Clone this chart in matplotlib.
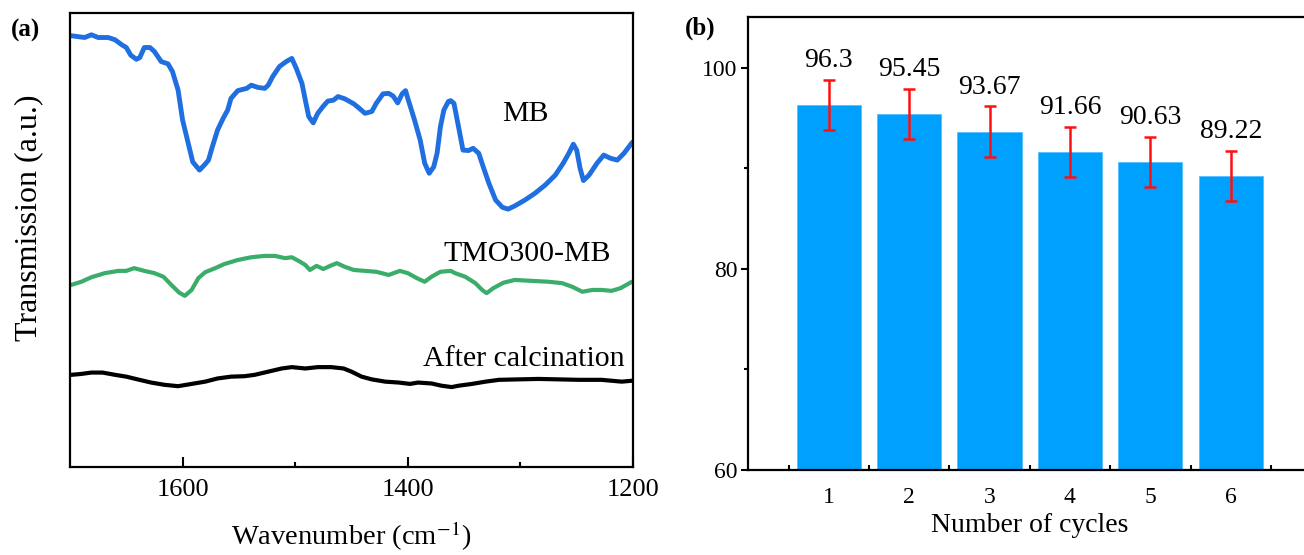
import matplotlib
matplotlib.use("Agg")
import matplotlib.pyplot as plt
import numpy as np

plt.rcParams['font.family'] = ['Liberation Serif', 'DejaVu Serif']
plt.rcParams['mathtext.fontset'] = 'stix'

# ---------------- Panel (a) data: FTIR spectra (arbitrary units) ----------------
mb_wn = [1699, 1687, 1681, 1675, 1666, 1660, 1654, 1650, 1646, 1641, 1638, 1634, 1629, 1625,
         1619, 1613, 1609, 1604, 1600, 1595, 1591, 1585, 1580, 1577, 1574, 1569, 1564, 1560,
         1557, 1551, 1543, 1539, 1533, 1527, 1524, 1520, 1514, 1508, 1503, 1499, 1494, 1491,
         1488, 1484, 1480, 1475, 1471, 1466, 1462, 1456, 1448, 1444, 1438, 1432, 1428, 1422,
         1417, 1413, 1409, 1405, 1402, 1400, 1394, 1389, 1385, 1381, 1377, 1374, 1371, 1368,
         1364, 1362, 1359, 1355, 1351, 1346, 1342, 1337, 1333, 1328, 1322, 1316, 1311, 1305,
         1296, 1287, 1278, 1269, 1262, 1257, 1253, 1250, 1247, 1244, 1239, 1232, 1226, 1220,
         1214, 1208, 1201, 1200]
mb_t = [95.0, 94.6, 95.2, 94.6, 94.6, 94.1, 93.0, 92.4, 90.7, 89.8, 90.2, 92.4, 92.4, 91.5,
        89.3, 88.8, 87.1, 83.0, 76.4, 71.3, 67.2, 65.4, 66.7, 67.6, 70.2, 74.2, 76.8, 78.6,
        81.2, 82.9, 83.4, 84.1, 83.6, 83.4, 84.1, 86.0, 88.2, 89.3, 90.0, 87.8, 84.5, 80.8,
        77.2, 75.8, 77.9, 79.5, 80.6, 80.8, 81.6, 81.1, 80.0, 79.2, 77.9, 78.3, 80.1, 82.2,
        82.3, 81.7, 80.2, 82.2, 82.9, 81.2, 76.4, 72.0, 66.9, 64.7, 66.1, 69.1, 75.0, 78.6,
        80.5, 80.7, 80.1, 75.0, 69.8, 69.7, 70.2, 69.1, 66.1, 62.5, 58.8, 57.2, 56.8, 57.5,
        58.8, 60.3, 62.1, 64.3, 66.9, 69.1, 71.1, 69.8, 65.8, 63.1, 64.3, 66.9, 68.7, 68.0,
        67.6, 69.1, 71.4, 71.6]

tmo_wn = [1699, 1690, 1681, 1669, 1657, 1650, 1643, 1634, 1625, 1617, 1610, 1603, 1598, 1592,
          1586, 1580, 1571, 1563, 1551, 1539, 1527, 1518, 1509, 1503, 1497, 1491, 1487, 1481,
          1475, 1469, 1463, 1456, 1448, 1438, 1428, 1417, 1407, 1400, 1392, 1385, 1379, 1371,
          1362, 1358, 1349, 1340, 1334, 1330, 1324, 1315, 1305, 1290, 1275, 1263, 1254, 1245,
          1236, 1228, 1219, 1211, 1201]
tmo_t = [40.1, 40.8, 41.8, 42.7, 43.2, 43.2, 43.8, 43.2, 42.7, 41.9, 40.1, 38.4, 37.7, 39.0,
         41.6, 42.9, 43.8, 44.7, 45.6, 46.2, 46.5, 46.5, 46.0, 46.2, 45.4, 44.5, 43.4, 44.3,
         43.6, 44.3, 44.9, 44.1, 43.4, 43.2, 43.0, 42.3, 43.2, 42.7, 41.6, 40.8, 41.9, 43.0,
         43.2, 42.7, 41.9, 40.5, 39.0, 38.3, 39.4, 40.6, 41.2, 41.0, 40.8, 40.5, 39.7, 38.6,
         39.0, 39.0, 38.8, 39.4, 40.8]

calc_wn = [1699, 1690, 1681, 1671, 1660, 1650, 1640, 1628, 1616, 1604, 1592, 1580, 1569, 1557,
           1545, 1536, 1524, 1512, 1503, 1491, 1480, 1468, 1457, 1450, 1441, 1432, 1420, 1408,
           1398, 1391, 1379, 1370, 1361, 1355, 1343, 1331, 1319, 1302, 1284, 1266, 1248, 1228,
           1210, 1201]
calc_t = [20.3, 20.5, 20.8, 20.8, 20.3, 19.9, 19.3, 18.6, 18.1, 17.8, 18.3, 18.8, 19.5, 19.9,
          20.0, 20.3, 21.0, 21.7, 22.0, 21.7, 22.0, 22.0, 21.7, 21.0, 19.9, 19.3, 18.8, 18.6,
          18.3, 18.6, 18.4, 17.9, 17.6, 17.9, 18.3, 18.8, 19.2, 19.3, 19.4, 19.3, 19.2, 19.2,
          18.8, 19.0]

curve_labels = ['MB', 'TMO300-MB', 'After calcination']
label_wn = [1296, 1294, 1297]
label_t = [76.2, 45.3, 22.2]

# ---------------- Panel (b) data: cycling ----------------
cycles = [1, 2, 3, 4, 5, 6]
removal = [96.3, 95.45, 93.67, 91.66, 90.63, 89.22]
errors = [2.5, 2.5, 2.5, 2.5, 2.5, 2.5]
value_labels = ['96.3', '95.45', '93.67', '91.66', '90.63', '89.22']

W, H = 1304, 555
fig = plt.figure(figsize=(W / 100, H / 100), dpi=100)

# ---- panel (a)
axa = fig.add_axes([70 / W, 1 - 467 / H, (633 - 70) / W, (467 - 13) / H])
axa.plot(mb_wn, mb_t, color='#1f6fe0', lw=3.5, solid_joinstyle='round', solid_capstyle='round')
axa.plot(tmo_wn, tmo_t, color='#3aad6b', lw=3.0, solid_joinstyle='round', solid_capstyle='round')
axa.plot(calc_wn, calc_t, color='black', lw=3.0, solid_joinstyle='round', solid_capstyle='round')
axa.set_xlim(1700, 1200)
axa.set_ylim(0, 100)
axa.set_xticks([1600, 1400, 1200])
axa.set_xticks([1500, 1300], minor=True)
axa.set_yticks([])
axa.tick_params(axis='x', which='major', direction='in', length=7, width=1.5, labelsize=19, pad=9)
axa.tick_params(axis='x', which='minor', direction='in', length=3.5, width=1.5)
for s in axa.spines.values():
    s.set_linewidth(1.6)
axa.set_xlabel('Wavenumber (cm$^{-1}$)', fontsize=20.5, labelpad=13)
axa.set_ylabel('Transmission (a.u.)', fontsize=23)
axa.yaxis.set_label_coords(-0.047, 0.548)
for lab, w, t in zip(curve_labels, label_wn, label_t):
    axa.text(w, t, lab, fontsize=21.5, ha='center', va='baseline')
fig.text(26 / W, 1 - 30 / H, '(a)', fontsize=18, fontweight='bold', ha='center', va='center')

# ---- panel (b)
axb = fig.add_axes([748.3 / W, 1 - 470 / H, 7 * 80.4 / W, (470 - 17) / H])
axb.bar(cycles, removal, width=0.8, color='#00a0ff', edgecolor='#55bfff', linewidth=0.6, zorder=2)
axb.errorbar(cycles, removal, yerr=errors, fmt='none', ecolor='#ff1010', elinewidth=1.8,
             capsize=4, capthick=1.8, zorder=3)
for c, v, e, lab in zip(cycles, removal, errors, value_labels):
    axb.annotate(lab, (c, v + e), xytext=(0, 5), textcoords='offset points',
                 ha='center', va='bottom', fontsize=20)
axb.set_xlim(0, 7)
axb.set_ylim(60, 105.07)
axb.set_xticks(cycles)
axb.set_xticks([0.5, 1.5, 2.5, 3.5, 4.5, 5.5, 6.5], minor=True)
axb.set_yticks([60, 80, 100])
axb.set_yticks([70, 90], minor=True)
axb.tick_params(axis='x', which='major', length=0, labelsize=17, pad=12)
axb.tick_params(axis='x', which='minor', direction='in', length=3.5, width=1.5)
axb.tick_params(axis='y', which='major', direction='out', length=5, width=1.5, labelsize=17, pad=3)
axb.tick_params(axis='y', which='minor', direction='out', length=3, width=1.5)
for s in axb.spines.values():
    s.set_linewidth(1.6)
axb.set_xlabel('Number of cycles', fontsize=20, labelpad=4)
fig.text(700 / W, 1 - 28 / H, '(b)', fontsize=18, fontweight='bold', ha='center', va='center')

fig.savefig('out.png', dpi=100)
